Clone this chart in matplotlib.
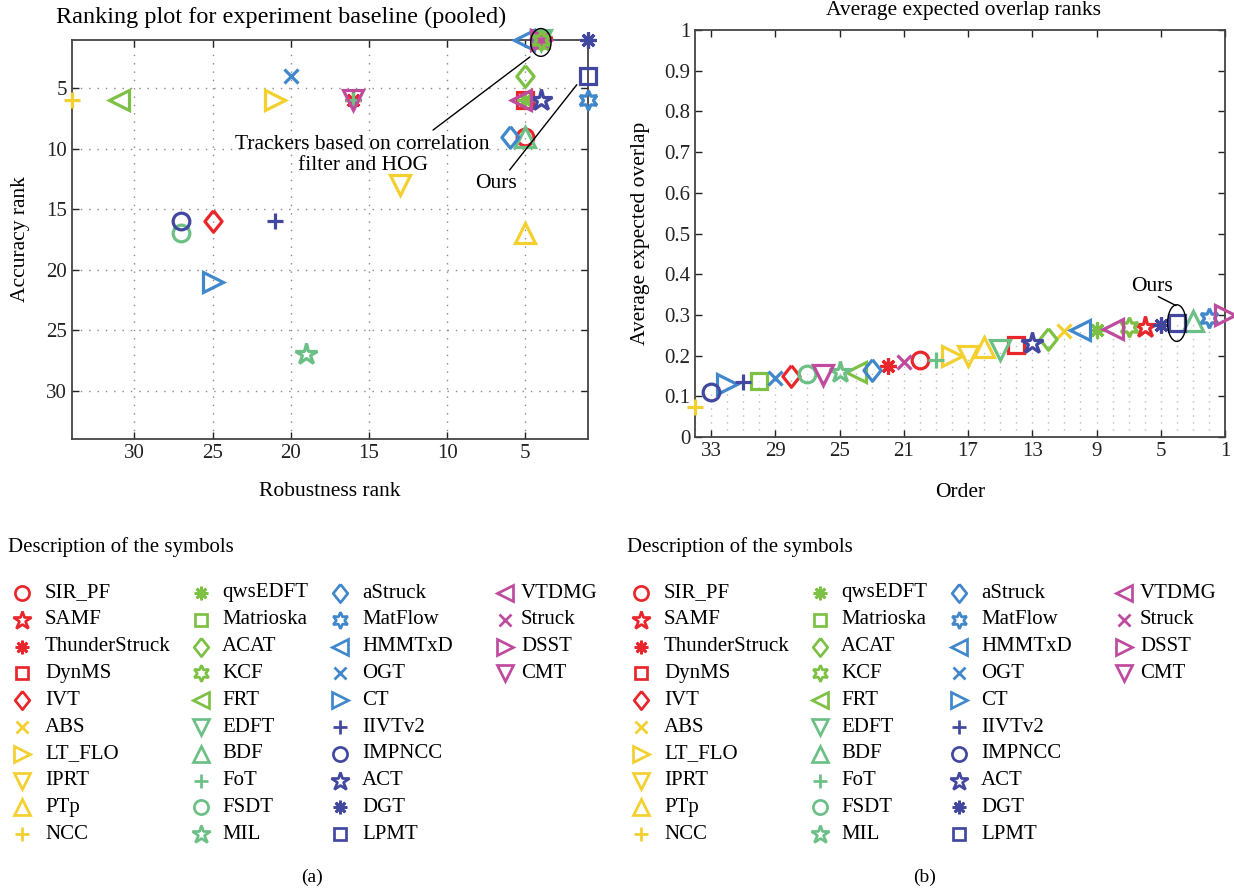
import matplotlib
matplotlib.use("Agg")
import matplotlib.pyplot as plt
from matplotlib.patches import Ellipse

plt.rcParams['font.family'] = ['Liberation Serif', 'DejaVu Serif']
plt.rcParams['font.size'] = 15

# tracker names, in the order of the symbol description
trackers = ['SIR_PF', 'SAMF', 'ThunderStruck', 'DynMS', 'IVT', 'ABS', 'LT_FLO', 'IPRT', 'PTp', 'NCC',
            'qwsEDFT', 'Matrioska', 'ACAT', 'KCF', 'FRT', 'EDFT', 'BDF', 'FoT', 'FSDT', 'MIL',
            'aStruck', 'MatFlow', 'HMMTxD', 'OGT', 'CT', 'IIVTv2', 'IMPNCC', 'ACT', 'DGT', 'LPMT',
            'VTDMG', 'Struck', 'DSST', 'CMT']

# ranking plot (pooled)
robustness_rank = [5, 4, 16, 5, 25, 4, 21, 13, 5, 34,
                   5, 4, 5, 4, 31, 4, 5, 16, 27, 19,
                   6, 1, 5.1, 20, 25, 21, 27, 4, 1, 1,
                   5.3, 4, 4, 16]
accuracy_rank = [9, 1, 6, 6, 16, 1, 6, 13, 17, 6,
                 6, 1, 4, 1, 6, 1, 9, 6, 17, 27,
                 9, 6, 1, 4, 21, 16, 16, 6, 1, 4,
                 6, 1, 1, 6]

# expected average overlap, order 1 = best
eao_order = [20, 6, 22, 14, 28, 11, 18, 17, 16, 34,
             9, 30, 12, 7, 24, 15, 3, 19, 27, 25,
             23, 2, 10, 29, 32, 31, 33, 13, 5, 4,
             8, 21, 1, 26]
eao_value = [0.19, 0.27, 0.175, 0.227, 0.15, 0.26, 0.20, 0.20, 0.22, 0.075,
             0.264, 0.138, 0.24, 0.27, 0.16, 0.213, 0.285, 0.19, 0.155, 0.16,
             0.165, 0.293, 0.262, 0.145, 0.13, 0.135, 0.11, 0.232, 0.276, 0.28,
             0.266, 0.185, 0.30, 0.152]

RED, YEL, LIME, SEA = '#e8262c', '#f3cf2f', '#7cc144', '#6cc086'
BLUE, NAVY, MAG = '#4187cb', '#4248a0', '#bf4b9f'
colors = [RED] * 5 + [YEL] * 5 + [LIME] * 5 + [SEA] * 5 + [BLUE] * 5 + [NAVY] * 5 + [MAG] * 4

ASTER = (8, 2, 0)
HEXA = (6, 1, 0)
DIAM = [(0, 1), (0.8, 0), (0, -1), (-0.8, 0), (0, 1)]
markers = ['o', '*', ASTER, 's', 'D', 'x', '>', 'v', '^', '+',
           ASTER, 's', 'D', HEXA, '<', 'v', '^', '+', 'o', '*',
           'D', HEXA, '<', 'x', '>', '+', 'o', '*', ASTER, 's',
           '<', 'x', '>', 'v']

SIZES = {'D': 15.5, 'o': 12, '*': 16, 's': 11, 'x': 9.5, '+': 12, ASTER: 11.5, HEXA: 14}


def draw(ax, x, y, m, c, scale=1.0, **kw):
    shape = DIAM if m == 'D' else m
    size = SIZES.get(m, 14)
    ax.plot(x, y, linestyle='none', marker=shape, markersize=size * scale,
            markerfacecolor='none', markeredgecolor=c, markeredgewidth=2.3 * scale,
            clip_on=False, **kw)


def style_axes(ax):
    for s in ax.spines.values():
        s.set_color('#444444')
        s.set_linewidth(1.3)
    ax.tick_params(direction='in', top=True, right=True, length=5,
                   width=1, colors='#222222', labelsize=15)


def pointer(ax, p0, p1):
    ax.annotate('', xy=p0, xytext=p1,
                arrowprops=dict(arrowstyle='-', color='black', lw=1, shrinkA=0, shrinkB=0))


fig = plt.figure(figsize=(12.34, 8.91), dpi=100)

# (a) ranking plot
ax1 = fig.add_axes([0.0583, 0.5073, 0.418, 0.4478])
for i in range(len(trackers)):
    z = 4 if trackers[i] == 'KCF' else 3
    draw(ax1, robustness_rank[i], accuracy_rank[i], markers[i], colors[i], zorder=z)
ax1.set_xlim(34, 1)
ax1.set_ylim(34, 1)
ax1.set_xticks([30, 25, 20, 15, 10, 5])
ax1.set_yticks([5, 10, 15, 20, 25, 30])
ax1.grid(True, color='#888888', linestyle=(0, (1, 5)), linewidth=1)
style_axes(ax1)
ax1.set_xlabel('Robustness rank', fontsize=15.5, labelpad=14)
ax1.set_ylabel('Accuracy rank', fontsize=15.5, labelpad=12)
fig.text(281 / 1234, 1 - 17 / 891, 'Ranking plot for experiment baseline (pooled)',
         ha='center', va='center', fontsize=17.5)

# correlation-filter / HOG group at the top right
ax1.add_patch(Ellipse((4, 1.2), 1.3, 2.3, fill=False, edgecolor='black', lw=1, zorder=5, clip_on=False))
pointer(ax1, (4.7, 2.4), (10.9, 8.45))
ax1.text(15.4, 10.5, 'Trackers based on correlation\nfilter and HOG', ha='center', va='center',
         fontsize=15.5, linespacing=1.15)
lp = trackers.index('LPMT')
pointer(ax1, (robustness_rank[lp] + 0.7, accuracy_rank[lp] + 0.7), (6.0, 11.75))
ax1.text(6.9, 12.9, 'Ours', ha='center', va='center', fontsize=15.5)

# (b) expected overlap
ax2 = fig.add_axes([0.5632, 0.5095, 0.4295, 0.4568])
for i in range(len(trackers)):
    ax2.plot([eao_order[i], eao_order[i]], [0, eao_value[i]], color='#bbbbbb',
             linestyle=(0, (1, 4)), linewidth=1, zorder=1)
for i in range(len(trackers)):
    draw(ax2, eao_order[i], eao_value[i], markers[i], colors[i], zorder=3)
ax2.set_xlim(34, 1)
ax2.set_ylim(0, 1)
ax2.set_xticks([33, 29, 25, 21, 17, 13, 9, 5, 1])
ax2.set_yticks([i / 10 for i in range(11)])
ax2.set_yticklabels(['0'] + ['0.%d' % i for i in range(1, 10)] + ['1'])
style_axes(ax2)
ax2.set_xlabel('Order', fontsize=15.5, labelpad=16)
ax2.set_ylabel('Average expected overlap', fontsize=15.5, labelpad=10)
fig.text(964 / 1234, 1 - 10 / 891, 'Average expected overlap ranks', ha='center', va='center',
         fontsize=15.5)

ax2.add_patch(Ellipse((eao_order[lp], eao_value[lp]), 1.15, 0.09, fill=False,
                      edgecolor='black', lw=1, zorder=4))
pointer(ax2, (eao_order[lp] + 0.05, eao_value[lp] + 0.043), (5.15, 0.345))
ax2.text(5.55, 0.37, 'Ours', ha='center', va='center', fontsize=15.5)

# symbol descriptions below each panel
leg = fig.add_axes([0, 0, 1, 1])
leg.set_xlim(0, 1234)
leg.set_ylim(891, 0)
leg.axis('off')
col_marker = [22, 201, 340, 505]
col_text = [45, 222, 362, 521]
for off in (0, 619):
    leg.text(8 + off, 547, 'Description of the symbols', fontsize=15, va='center')
    for i, name in enumerate(trackers):
        col, row = divmod(i, 10)
        y = 593 + 26.8 * row
        draw(leg, col_marker[col] + off, y, markers[i], colors[i], scale=0.85)
        leg.text(col_text[col] + off, y, name, fontsize=15, va='center')

fig.text(312 / 1234, 1 - 877 / 891, '(a)', ha='center', va='center', fontsize=14)
fig.text(925 / 1234, 1 - 877 / 891, '(b)', ha='center', va='center', fontsize=14)

fig.savefig('out.png', dpi=100)
